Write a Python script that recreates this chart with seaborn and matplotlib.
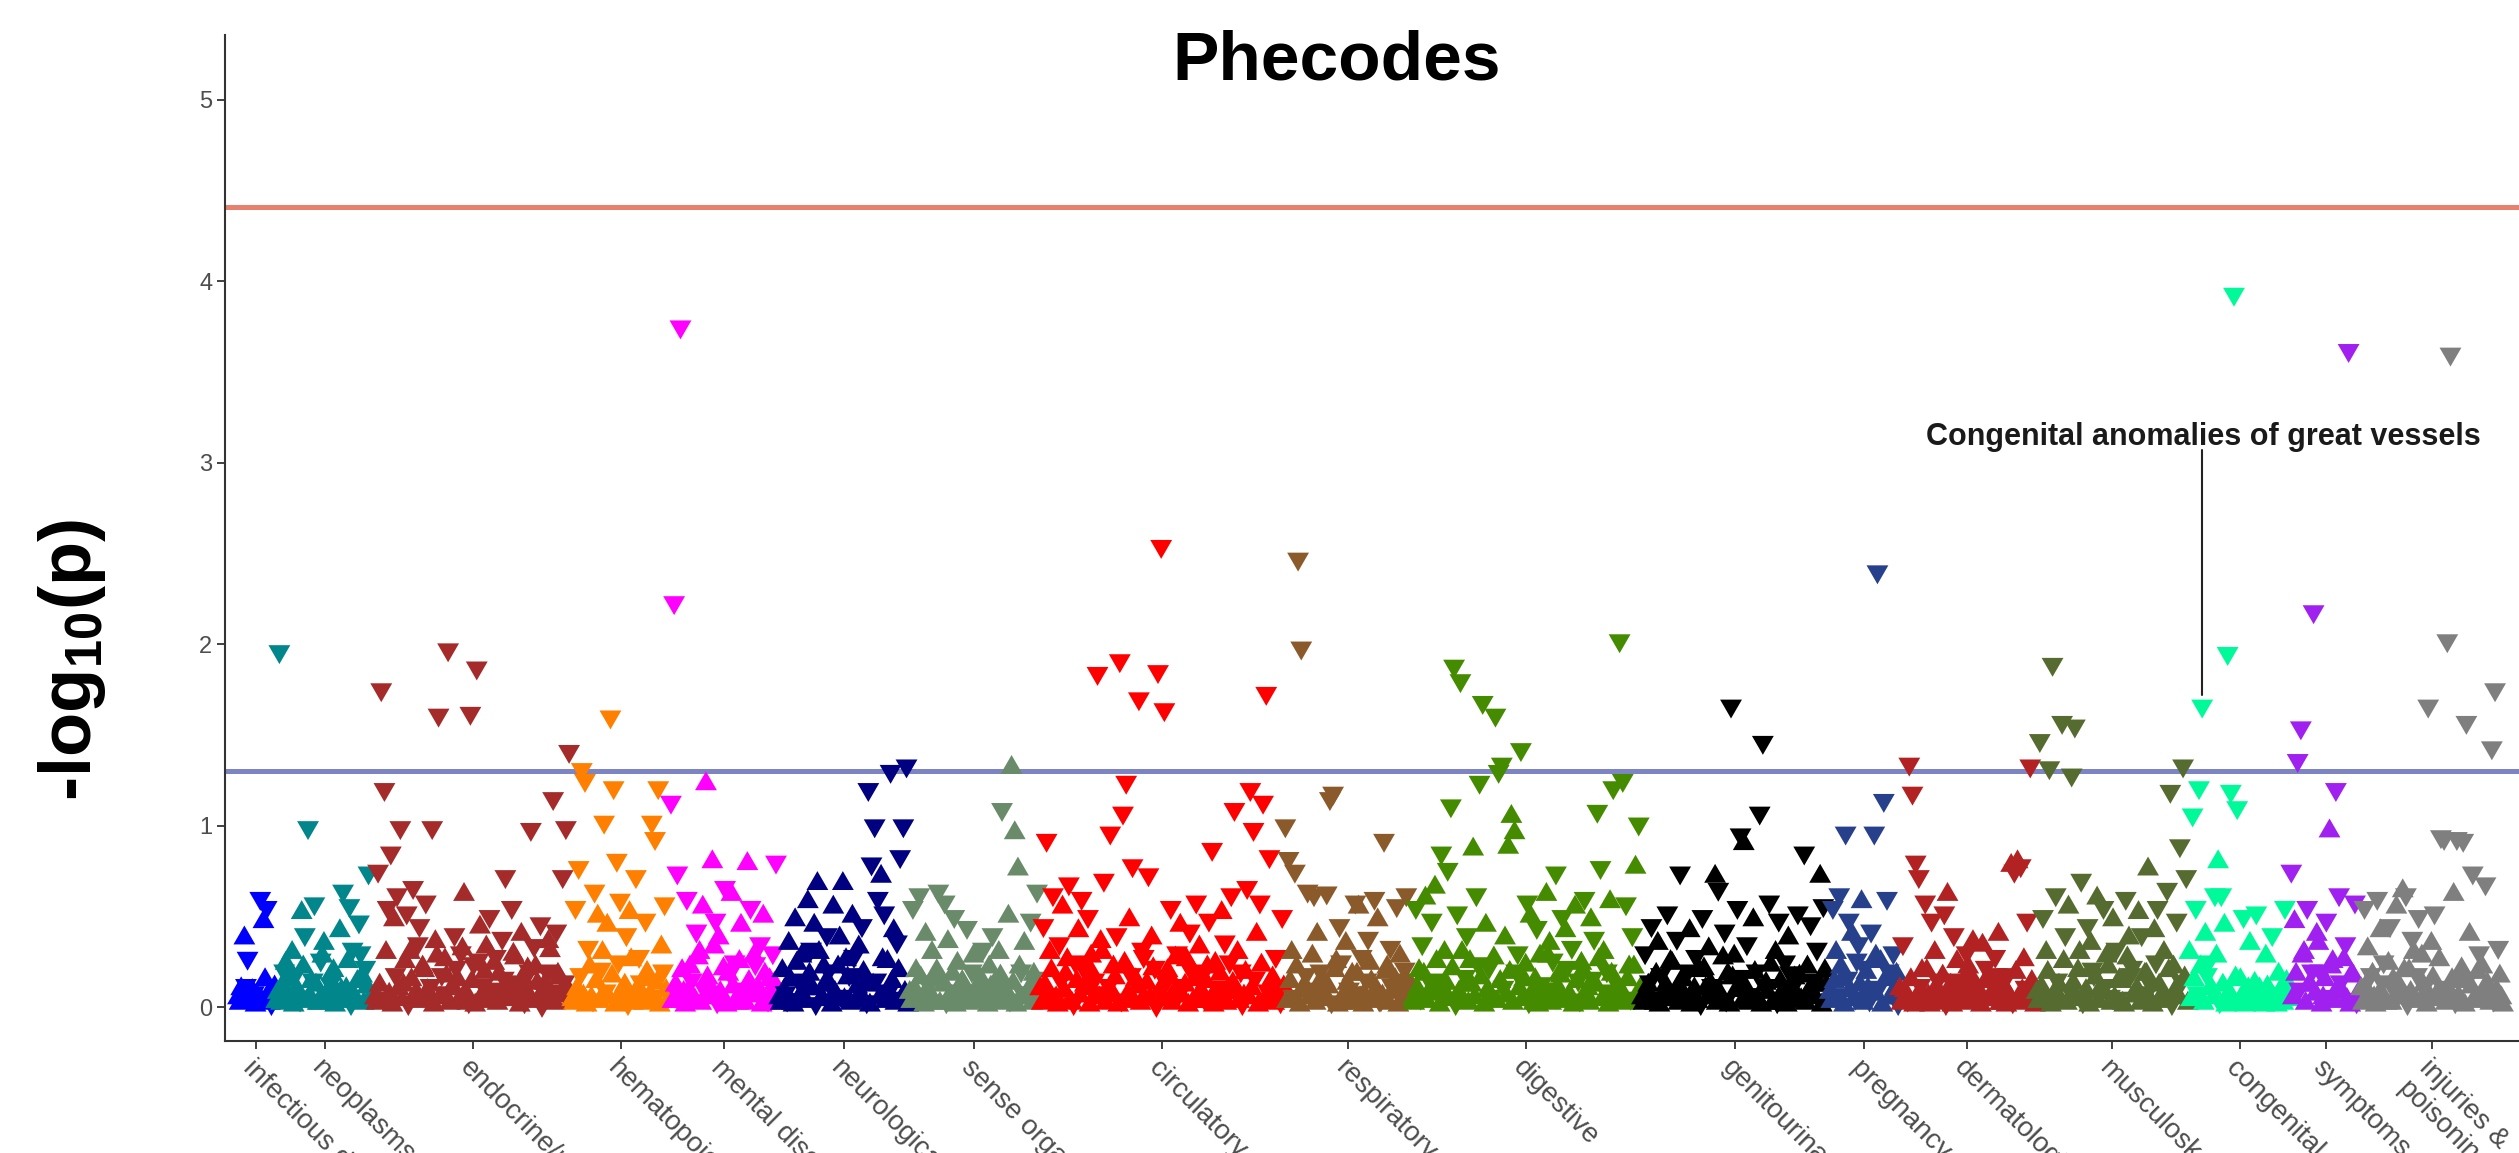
import numpy as np
import pandas as pd
import matplotlib
matplotlib.use("Agg")
import matplotlib.pyplot as plt
from matplotlib.markers import MarkerStyle
import seaborn as sns

# Signed -log10(p) for each phecode.  The sign carries the direction of effect:
# + risk (triangle up), - protective (triangle down).
# Each group is stored as two halves that interleave in phecode order:
# *_even holds positions 0, 2, 4, ... and *_odd holds positions 1, 3, 5, ...
infectious_even = [0.05, 0.10, 0.38, -0.27, 0.03, -0.08, 0.06, -0.60, 0.47, -0.55, 0.02, 0.08]
infectious_odd = [0.02, 0.06, -0.12, 0.04, 0.09, 0.01, -0.05, 0.03, 0.15, 0.07, -0.02, 0.11]

neoplasms_even = [0.03, -1.96, 0.12, 0.24, -0.08, 0.30, -0.18, 0.05, 0.52, -0.40,
                  -0.99, 0.14, -0.57, 0.02, -0.26, 0.35, 0.08, -0.13, 0.20, -0.05,
                  0.42, -0.64, 0.10, -0.56, -0.32, 0.03, -0.47, 0.17, -0.22, -0.74, 0.06]
neoplasms_odd = [0.08, 0.02, -0.20, 0.05, 0.15, 0.01, 0.10, -0.04, 0.22, 0.03,
                 0.06, -0.15, 0.12, 0.02, 0.28, -0.07, 0.04, 0.18, 0.01, -0.10,
                 0.09, 0.03, 0.25, -0.02, 0.06, 0.14, -0.30, 0.02, 0.11, 0.05, -0.08]

endocrine_even = [0.05, -0.75, -1.75, -1.20, -0.55, -0.85, 0.48, -0.62, -0.99, 0.12,
                  -0.52, 0.30, -0.66, 0.08, -0.45, 0.22, -0.58, 0.04, -0.99, 0.36,
                  -1.61, -0.18, 0.26, -1.97, 0.10, -0.40, 0.15, -0.30, 0.62, 0.02,
                  -1.62, -0.24, -1.87, 0.44, -0.12, 0.33, -0.50, 0.06, -0.28, 0.18,
                  -0.38, -0.72, 0.09, -0.55, 0.27, -0.14, 0.40, -0.03, 0.21, -0.98,
                  -0.34, 0.13, -0.46, 0.05, -0.20, 0.31, -1.15, -0.42, 0.16, -0.72,
                  -0.99, -1.41]
endocrine_odd = [0.02, 0.12, -0.05, 0.30, 0.07, 0.01, -0.18, 0.10, 0.04, 0.25,
                 -0.02, 0.15, 0.06, -0.35, 0.03, 0.20, 0.09, -0.12, 0.01, 0.28,
                 0.05, -0.08, 0.17, 0.02, 0.11, -0.22, 0.04, 0.32, 0.08, -0.03,
                 0.14, 0.01, -0.26, 0.06, 0.19, 0.03, -0.10, 0.24, 0.02, 0.07,
                 -0.16, 0.12, 0.04, 0.29, -0.06, 0.01, 0.16, 0.09, -0.20, 0.03,
                 0.22, 0.05, -0.01, 0.13, 0.36, -0.09, 0.02, 0.18, 0.06, -0.14,
                 0.10, 0.03]

hematopoietic_even = [0.04, -0.55, -0.77, -1.31, -1.25, -0.33, 0.05, -0.64, 0.50, -0.21,
                      -1.02, 0.45, -1.60, -1.21, -0.81, -0.59, 0.10, -0.40, 0.52, 0.02,
                      -0.72, -0.28, 0.07, -0.48, 0.15, -1.02, -0.93, -1.21, 0.33, -0.57, 0.03]
hematopoietic_odd = [0.02, 0.10, -0.18, 0.06, 0.01, 0.22, -0.04, 0.14, 0.03, 0.30,
                     -0.09, 0.05, 0.17, 0.01, -0.25, 0.08, 0.12, -0.02, 0.26, 0.04,
                     0.10, -0.14, 0.02, 0.19, 0.07, -0.06, 0.13, 0.01, -0.20, 0.09, 0.04]

mental_even = [-1.13, -2.23, -0.74, -3.75, 0.08, -0.60, 0.22, 0.03, -0.42, 0.30,
               0.55, 1.23, 0.12, 0.80, -0.48, 0.38, 0.05, -0.66, 0.18, 0.62,
               -0.25, 0.02, 0.45, -0.10, 0.79, -0.55, 0.28, 0.07, -0.35, 0.50,
               -0.05, 0.15, -0.30, -0.80]
mental_odd = [0.03, 0.12, -0.06, 0.20, 0.01, 0.09, -0.15, 0.04, 0.27, 0.02,
              -0.10, 0.16, 0.05, 0.33, -0.03, 0.08, 0.21, 0.01, -0.19, 0.11,
              0.04, 0.25, -0.07, 0.02, 0.14, 0.06, -0.24, 0.10, 0.01, 0.18,
              -0.04, 0.07, 0.13, 0.02]

neurological_even = [0.05, 0.20, -0.08, 0.35, 0.02, 0.48, -0.15, 0.28, 0.10, 0.58,
                     -0.32, 0.45, 0.68, 0.04, 0.22, -0.40, 0.12, 0.55, -0.06, 0.38,
                     0.68, 0.26, -0.18, 0.50, 0.03, 0.33, -0.45, 0.14, -1.20, -0.79,
                     -1.00, -0.60, 0.72, -0.52, 0.25, -1.30, 0.42, -0.36, -0.83, -1.00, -1.33]
neurological_odd = [0.02, 0.09, -0.04, 0.15, 0.01, 0.24, 0.06, -0.12, 0.03, 0.18,
                    0.10, -0.02, 0.30, 0.05, 0.13, -0.20, 0.01, 0.08, 0.22, -0.06,
                    0.04, 0.16, 0.02, -0.28, 0.11, 0.07, 0.19, -0.03, 0.01, 0.12,
                    -0.15, 0.05, 0.26, 0.03, -0.09, 0.14, 0.02, 0.20, -0.05, 0.08, 0.01]

sense_organs_even = [0.08, -0.55, 0.20, -0.62, 0.05, 0.40, -0.12, 0.30, 0.02, -0.64,
                     0.15, -0.58, 0.36, 0.06, -0.50, 0.24, -0.08, 0.12, -0.44, 0.03,
                     0.28, -0.18, 0.10, -0.32, 0.04, 0.22, -0.40, 0.14, 0.30, -1.09,
                     0.07, 0.50, 1.32, 0.96, 0.76, -0.20, 0.35, 0.05, -0.48, 0.18, -0.64]
sense_organs_odd = [0.03, 0.10, -0.05, 0.16, 0.01, 0.07, -0.14, 0.04, 0.20, 0.02,
                    0.12, -0.03, 0.06, 0.18, 0.01, -0.09, 0.14, 0.05, 0.02, -0.20,
                    0.09, 0.03, 0.15, -0.06, 0.01, 0.11, 0.04, -0.12, 0.17, 0.02,
                    0.08, -0.04, 0.13, 0.01, 0.22, -0.08, 0.05, 0.10, 0.02, -0.16, 0.06]

circulatory_even = [0.10, -0.45, -0.92, 0.30, -0.62, 0.05, -0.35, 0.55, 0.18, -0.68,
                    0.02, -0.25, 0.42, -0.60, 0.12, -0.50, 0.28, -0.15, -1.84, 0.36,
                    -0.70, 0.06, -0.96, 0.22, -0.40, -1.91, -1.07, -1.24, 0.48, -0.78,
                    0.15, -1.70, -0.32, 0.04, -0.73, 0.38, -0.22, -1.85, -2.54, -1.64,
                    0.20, -0.55, 0.08, -0.30, 0.45, -0.12, 0.26, -0.42, 0.03, -0.58,
                    0.33, -0.18, 0.14, -0.48, -0.87, 0.24, -0.05, 0.52, -0.36, 0.10,
                    -0.62, -1.09, 0.30, -0.20, 0.06, -0.66, -1.20, -0.98, 0.40, -0.58,
                    -1.13, -1.73, -0.83, 0.16, -0.28, 0.04, -0.50]
circulatory_odd = [0.02, 0.12, -0.06, 0.20, 0.04, 0.01, -0.15, 0.09, 0.26, 0.03,
                   -0.02, 0.14, 0.06, -0.22, 0.10, 0.01, 0.18, -0.08, 0.05, 0.30,
                   0.02, -0.12, 0.08, 0.16, 0.01, -0.04, 0.24, 0.07, -0.18, 0.03,
                   0.11, 0.02, -0.28, 0.13, 0.05, 0.21, -0.01, 0.09, 0.04, -0.14,
                   0.17, 0.02, 0.27, -0.07, 0.06, 0.12, 0.01, -0.20, 0.15, 0.03,
                   0.09, -0.05, 0.22, 0.04, 0.01, -0.11, 0.18, 0.06, 0.02, -0.25,
                   0.13, 0.08, 0.03, -0.02, 0.19, 0.05, 0.10, -0.16, 0.01, 0.23,
                   0.04, -0.09, 0.14, 0.02, 0.07, -0.03, 0.11]

respiratory_even = [-1.00, -0.82, 0.30, -0.75, -2.47, -1.98, 0.12, -0.64, 0.05, -0.62,
                    0.40, -0.20, 0.08, -0.63, -1.15, -1.18, 0.25, -0.45, 0.02, 0.35,
                    -0.10, 0.18, -0.58, 0.55, -0.28, 0.06, -0.38, 0.14, -0.60, 0.48,
                    -0.04, -0.92, 0.22, -0.33, 0.10, -0.56, 0.28, -0.15, -0.62, 0.04]
respiratory_odd = [0.03, 0.14, -0.06, 0.22, 0.01, 0.09, -0.18, 0.05, 0.28, 0.02,
                   -0.10, 0.16, 0.04, 0.11, -0.03, 0.20, 0.01, -0.25, 0.07, 0.13,
                   0.02, -0.08, 0.18, 0.05, 0.01, -0.15, 0.24, 0.03, 0.10, -0.04,
                   0.06, 0.19, 0.02, -0.12, 0.15, 0.01, 0.08, -0.21, 0.04, 0.12]

digestive_even = [0.04, -0.55, 0.20, -0.35, 0.60, 0.08, -0.48, 0.66, -0.15, -0.85,
                  0.30, -0.76, -1.11, -1.88, -0.52, -1.80, 0.12, -0.40, 0.25, 0.87,
                  -0.62, -1.24, -1.68, 0.45, -0.22, 0.05, -1.61, -1.30, -1.34, 0.38,
                  0.88, 1.05, 0.96, -0.30, -1.42, 0.15, -0.58, 0.50, 0.02, -0.44,
                  0.28, -0.10, 0.62, 0.35, -0.26, -0.74, 0.18, -0.50, 0.42, 0.06,
                  -0.33, 0.55, -0.15, 0.24, -0.60, 0.10, 0.48, -0.38, -1.08, -0.77,
                  0.30, -0.20, 0.58, -1.21, 0.03, -2.02, -1.25, -0.57, 0.22, -0.40,
                  0.77, -1.01]
digestive_odd = [0.02, 0.10, -0.05, 0.18, 0.03, -0.14, 0.07, 0.25, 0.01, -0.09,
                 0.13, 0.04, 0.21, -0.02, 0.08, 0.30, -0.17, 0.02, 0.12, 0.05,
                 -0.24, 0.16, 0.01, 0.09, -0.06, 0.27, 0.03, 0.14, -0.11, 0.06,
                 0.19, 0.02, -0.20, 0.10, 0.04, 0.23, -0.03, 0.08, 0.15, 0.01,
                 -0.13, 0.05, 0.28, 0.02, -0.07, 0.11, 0.17, 0.03, -0.22, 0.06,
                 0.01, 0.14, -0.04, 0.20, 0.07, 0.02, -0.16, 0.12, 0.26, 0.04,
                 -0.09, 0.01, 0.18, 0.05, -0.12, 0.09, 0.02, 0.15, -0.05, 0.22,
                 0.03, 0.10]

genitourinary_even = [0.05, -0.30, 0.12, -0.45, 0.02, 0.35, -0.18, 0.08, -0.52, 0.25,
                      0.04, -0.38, -0.74, 0.15, -0.06, 0.42, 0.03, -0.28, 0.20, -0.50,
                      0.10, 0.32, -0.12, 0.72, -0.65, 0.06, -0.42, 0.18, -1.66, 0.28,
                      -0.55, -0.95, 0.90, -0.35, 0.04, 0.48, -0.20, -1.07, -1.46, 0.13,
                      -0.58, 0.02, 0.30, -0.48, 0.08, -0.25, 0.38, -0.10, 0.16, -0.52,
                      0.04, -0.85, 0.22, -0.46, 0.07, -0.32, 0.72, -0.56, 0.12]
genitourinary_odd = [0.02, 0.08, -0.14, 0.03, 0.18, 0.01, -0.05, 0.12, 0.04, 0.24,
                     -0.09, 0.02, 0.15, 0.06, -0.20, 0.01, 0.10, 0.03, -0.02, 0.21,
                     0.05, 0.13, -0.11, 0.02, 0.07, 0.27, -0.04, 0.01, 0.16, 0.09,
                     -0.17, 0.03, 0.11, 0.02, -0.07, 0.19, 0.04, 0.01, -0.12, 0.08,
                     0.23, 0.02, -0.03, 0.14, 0.06, 0.01, -0.19, 0.10, 0.03, 0.17,
                     -0.06, 0.02, 0.09, 0.05, -0.15, 0.12, 0.01, 0.20, 0.04]

pregnancy_even = [0.08, -0.55, 0.30, -0.62, 0.15, -0.96, -0.48, 0.40, -0.05, -0.35,
                  0.58, -0.22, 0.10, -0.42, -0.96, -2.40, 0.25, -1.14, -0.60, 0.05,
                  -0.30, 0.18]
pregnancy_odd = [0.03, 0.14, -0.07, 0.22, 0.01, -0.16, 0.09, 0.04, -0.26, 0.12,
                 0.02, 0.19, -0.04, 0.07, 0.28, -0.11, 0.01, 0.15, -0.20, 0.05,
                 0.10, -0.02]

dermatologic_even = [0.10, -0.35, 0.04, -1.34, -1.18, -0.80, -0.72, 0.20, -0.58, 0.06,
                     -0.48, 0.30, -0.15, 0.02, -0.52, 0.62, 0.12, -0.40, 0.25, -0.08,
                     0.03, -0.30, 0.18, 0.36, -0.12, 0.08, 0.34, -0.22, 0.05, 0.14,
                     -0.28, 0.40, 0.02, 0.10, -0.18, 0.78, -0.75, 0.80, -0.78, 0.26,
                     -0.48, -1.33, 0.06]
dermatologic_odd = [0.02, 0.09, -0.04, 0.15, 0.01, 0.06, -0.12, 0.03, 0.20, 0.01,
                    -0.07, 0.11, 0.04, 0.17, -0.02, 0.08, 0.01, -0.15, 0.05, 0.13,
                    0.02, 0.22, -0.09, 0.03, 0.10, 0.01, -0.05, 0.16, 0.04, 0.07,
                    -0.18, 0.02, 0.12, 0.01, 0.06, -0.03, 0.19, 0.02, 0.09, -0.11,
                    0.04, 0.14, 0.01]

musculoskeletal_even = [0.08, -1.47, -0.50, 0.30, -1.32, -1.89, -0.62, 0.12, -1.57, -0.40,
                        0.55, -1.28, -1.55, 0.20, -0.70, 0.04, -0.45, 0.35, -0.18, 0.60,
                        0.10, -0.55, 0.28, -0.06, 0.48, -0.32, 0.15, 0.02, -0.60, 0.38,
                        -0.22, 0.08, 0.52, -0.40, 0.18, 0.76, -0.12, 0.42, -0.55, 0.05,
                        0.30, -0.65, -1.19, 0.22, -0.48, -0.89, -1.33, -0.72]
musculoskeletal_odd = [0.03, 0.11, -0.06, 0.19, 0.01, 0.07, -0.15, 0.04, 0.25, 0.02,
                       -0.09, 0.13, 0.05, 0.30, -0.03, 0.09, 0.01, -0.21, 0.16, 0.03,
                       0.08, -0.12, 0.22, 0.02, 0.05, -0.05, 0.14, 0.01, 0.27, -0.18,
                       0.06, 0.10, 0.02, -0.08, 0.18, 0.04, 0.01, -0.25, 0.12, 0.07,
                       0.03, 0.20, -0.02, 0.09, 0.05, -0.14, 0.16, 0.02]

congenital_even = [0.30, -1.06, -0.55, -1.21, -1.66, 0.40, -0.25, 0.10, -0.62, 0.80,
                   -0.62, 0.45, -1.95, -1.19, -3.93, -1.10, 0.15, -0.50, 0.05, 0.35,
                   0.02, -0.52, 0.10, 0.04, 0.28, 0.08, -0.40, 0.03, 0.18, 0.06,
                   -0.55, 0.12]
congenital_odd = [0.04, 0.15, -0.08, 0.22, 0.02, -0.18, 0.10, 0.05, 0.28, -0.03,
                  0.12, 0.01, 0.08, 0.03, 0.16, 0.02, 0.06, 0.01, 0.10, 0.04,
                  0.13, 0.02, 0.07, 0.01, 0.11, 0.03, 0.05, 0.01, 0.09, 0.02,
                  0.14, 0.04]

symptoms_even = [-0.75, 0.47, -1.36, -1.54, 0.30, -0.55, 0.12, -2.18, 0.40, -0.20,
                 0.05, -0.48, 0.97, 0.25, -1.20, -0.62, 0.08, -0.35, -3.62, 0.18,
                 -0.58, 0.03]
symptoms_odd = [0.05, 0.18, -0.10, 0.28, 0.02, 0.12, -0.20, 0.07, 0.35, 0.01,
                0.15, -0.06, 0.22, 0.03, 0.10, -0.14, 0.26, 0.04, 0.01, 0.17,
                -0.03, 0.09]

injuries_even = [0.10, -0.55, 0.32, -0.18, 0.05, -0.60, 0.42, -0.25, 0.02, -0.45,
                 0.15, 0.55, -0.08, 0.64, -0.62, 0.20, -0.38, 0.04, -0.50, 0.28,
                 -0.12, -1.66, 0.35, -0.52, 0.08, -0.94, -0.93, -2.02, -3.60, 0.62,
                 -0.93, 0.14, -0.92, -1.57, 0.40, -0.74, 0.06, -0.30, 0.22, -0.68,
                 0.10, -1.43, -1.75, -0.33, 0.05]
injuries_odd = [0.02, 0.10, -0.05, 0.18, 0.01, 0.07, -0.14, 0.04, 0.24, 0.02,
                -0.09, 0.13, 0.05, 0.20, -0.02, 0.08, 0.30, -0.18, 0.03, 0.12,
                0.01, -0.06, 0.16, 0.04, 0.26, -0.11, 0.02, 0.09, 0.15, -0.03,
                0.06, 0.21, 0.01, -0.16, 0.11, 0.03, 0.19, -0.07, 0.05, 0.13,
                0.02, -0.04, 0.09, 0.17, 0.01]

group_names = ["infectious diseases", "neoplasms", "endocrine/metabolic", "hematopoietic",
               "mental disorders", "neurological", "sense organs", "circulatory system",
               "respiratory", "digestive", "genitourinary", "pregnancy complications",
               "dermatologic", "musculoskeletal", "congenital anomalies", "symptoms",
               "injuries & poisonings"]
group_labels = ["infectious diseases", "neoplasms", "endocrine/metabolic", "hematopoietic",
                "mental disorders", "neurological", "sense organs", "circulatory system",
                "respiratory", "digestive", "genitourinary", "pregnancy complications",
                "dermatologic", "musculoskeletal", "congenital anomalies", "symptoms",
                "injuries &\npoisonings"]
group_halves = [(infectious_even, infectious_odd), (neoplasms_even, neoplasms_odd),
                (endocrine_even, endocrine_odd), (hematopoietic_even, hematopoietic_odd),
                (mental_even, mental_odd), (neurological_even, neurological_odd),
                (sense_organs_even, sense_organs_odd), (circulatory_even, circulatory_odd),
                (respiratory_even, respiratory_odd), (digestive_even, digestive_odd),
                (genitourinary_even, genitourinary_odd), (pregnancy_even, pregnancy_odd),
                (dermatologic_even, dermatologic_odd),
                (musculoskeletal_even, musculoskeletal_odd),
                (congenital_even, congenital_odd), (symptoms_even, symptoms_odd),
                (injuries_even, injuries_odd)]
group_colors = ["#0000FF", "#00868B", "#A52A2A", "#FF7F00", "#FF00FF", "#000080",
                "#698B69", "#FF0000", "#8B5A2B", "#458B00", "#000000", "#27408B",
                "#B22222", "#556B2F", "#00FA9A", "#A020F0", "#7F7F7F"]

suggestive_line = 1.30      # -log10(0.05)
bonferroni_line = 4.41
highlight_group = "congenital anomalies"
highlight_value = 1.66
highlight_text = "Congenital anomalies of great vessels"

# ---- tidy table in phecode order -------------------------------------------
rows = []
for name, (even, odd) in zip(group_names, group_halves):
    for pair in zip(even, odd):
        for v in pair:
            rows.append((name, abs(v), "up" if v > 0 else "down"))
df = pd.DataFrame(rows, columns=["group", "logp", "direction"])
df["pos"] = np.arange(len(df))
palette = dict(zip(group_names, group_colors))

# ---- figure ----------------------------------------------------------------
sns.set_theme(style="ticks")
plt.rcParams["font.family"] = ["Liberation Sans", "DejaVu Sans"]
plt.rcParams["mathtext.fontset"] = "custom"
plt.rcParams["mathtext.rm"] = "Liberation Sans"
plt.rcParams["mathtext.bf"] = "Liberation Sans:bold"

W, H = 2519, 1153
fig = plt.figure(figsize=(W / 100, H / 100), dpi=100)
ax = fig.add_axes([225 / W, (H - 1041) / H, (W - 225) / W, (1041 - 35) / H])

# equilateral triangles centred on their centroid
tri_up = MarkerStyle([(-1, -0.577), (1, -0.577), (0, 1.155)])
tri_down = MarkerStyle([(-1, 0.577), (1, 0.577), (0, -1.155)])

ax.axhline(bonferroni_line, color="#E8806E", lw=3.6, zorder=1)
ax.axhline(suggestive_line, color="#7C84C4", lw=3.6, zorder=1)

sns.scatterplot(data=df, x="pos", y="logp", hue="group", style="direction",
                palette=palette, markers={"up": tri_up, "down": tri_down},
                s=330, linewidth=0, edgecolor="none", legend=False, ax=ax, zorder=3)

# axis ranges: first phecode at 238 px, last at 2503 px
n = len(df)
step = (2503 - 238) / (n - 1)
ax.set_xlim((225 - 238) / step, (W - 238) / step)
ax.set_ylim(-0.187, 5.358)

centers = df.groupby("group", sort=False)["pos"].agg(lambda p: (p.min() + p.max()) / 2)
ax.set_xticks(centers.loc[group_names].values)
ax.set_xticklabels(group_labels, rotation=-45, ha="left", va="top",
                   rotation_mode="anchor")
ax.set_yticks([0, 1, 2, 3, 4, 5])
ax.tick_params(axis="x", length=6, width=1.3, color="#333333",
               labelsize=20, labelcolor="#4D4D4D", pad=4)
ax.tick_params(axis="y", length=6, width=1.3, color="#333333",
               labelsize=17, labelcolor="#4D4D4D", pad=3)
ax.set_xlabel("")
ax.set_ylabel("")
for side in ("top", "right"):
    ax.spines[side].set_visible(False)
for side in ("left", "bottom"):
    ax.spines[side].set_color("#333333")
    ax.spines[side].set_linewidth(1.5)

# label for the highlighted phecode
hit = df[(df["group"] == highlight_group) & np.isclose(df["logp"], highlight_value)].iloc[0]
ax.plot([hit["pos"], hit["pos"]], [3.07, hit["logp"] + 0.06],
        color="#222222", lw=1.5, zorder=4)
ax.text(hit["pos"] + 1.0, 3.14, highlight_text, ha="center", va="center",
        fontsize=22, fontweight="bold", color="#1A1A1A", zorder=5)

fig.text(1337 / W, 1 - 80 / H, "Phecodes", ha="center", va="baseline",
         fontsize=50, fontweight="bold", color="#000000")
fig.text(72 / W, 1 - 660 / H, r"-log$_{\mathbf{10}}$(p)", rotation=90,
         ha="center", va="center", fontsize=52, fontweight="bold", color="#000000")

fig.savefig("out.png", dpi=100)
